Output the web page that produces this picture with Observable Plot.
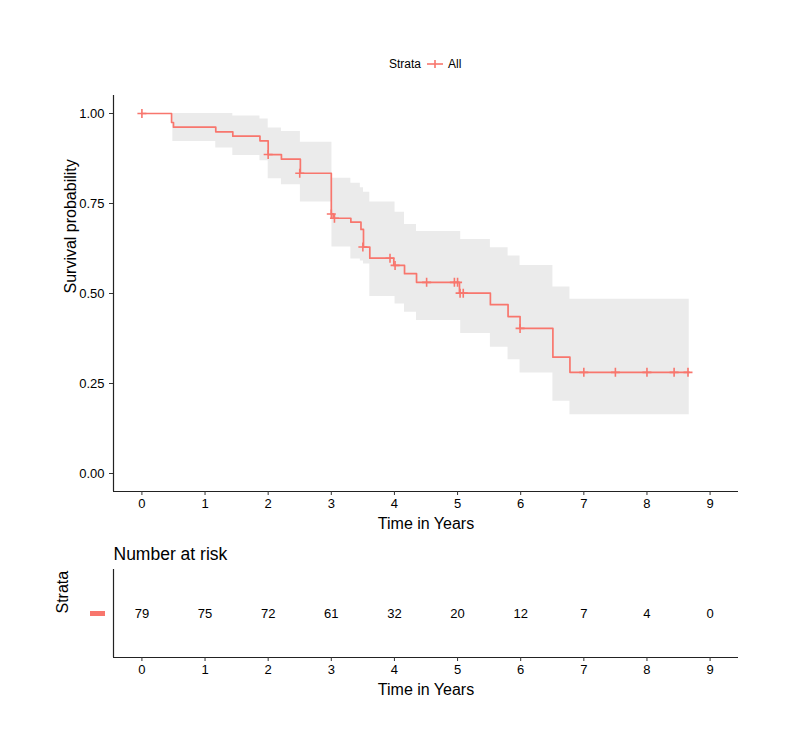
<!DOCTYPE html>
<html>
<head>
<meta charset="utf-8">
<script src="https://cdn.jsdelivr.net/npm/d3@7"></script>
<script src="https://cdn.jsdelivr.net/npm/@observablehq/plot@0.6"></script>
<style>
  html, body { margin: 0; padding: 0; background: #fff; }
  #wrap { position: relative; width: 800px; height: 755px; font-family: 'Liberation Sans', Arial, Helvetica, sans-serif; }
  #topChart { position: absolute; left: 0; top: 0; }
  #riskChart { position: absolute; left: 0; top: 530px; }
  #legend { position: absolute; left: 389px; top: 57px; font-size: 12px; display: flex; align-items: center; color: #000; }
</style>
</head>
<body>
<div id="wrap">
  <div id="topChart"></div>
  <div id="riskChart"></div>
  <div id="legend"><span>Strata</span><svg width="18" height="14" style="margin:0 4px 0 5px"><line x1="1" y1="7" x2="17" y2="7" stroke="#F8766D" stroke-width="1.6"/><line x1="9" y1="3" x2="9" y2="11" stroke="#F8766D" stroke-width="1.6"/></svg><span>All</span></div>
</div>
<script>
// ---- Data ----
const kmTime = [0, 0.47, 0.50, 1.17, 1.44, 1.87, 2.00, 2.21, 2.51, 3.00, 3.03, 3.31, 3.47, 3.51, 3.61, 3.99, 4.16, 4.35, 5.03, 5.52, 5.80, 5.99, 6.51, 6.78, 8.67];
const kmSurv = [1.000, 0.975, 0.962, 0.949, 0.937, 0.924, 0.886, 0.873, 0.834, 0.721, 0.709, 0.698, 0.678, 0.629, 0.598, 0.578, 0.555, 0.531, 0.501, 0.469, 0.436, 0.403, 0.323, 0.281, 0.281];

const ciTime  = [0.49, 1.17, 1.44, 1.87, 2.00, 2.21, 2.51, 3.01, 3.31, 3.46, 3.51, 3.61, 4.01, 4.16, 4.35, 5.05, 5.52, 5.80, 5.99, 6.51, 6.78, 8.67];
const ciUpper = [1.000, 1.000, 0.993, 0.985, 0.960, 0.950, 0.920, 0.820, 0.806, 0.794, 0.781, 0.754, 0.726, 0.692, 0.672, 0.650, 0.627, 0.604, 0.578, 0.518, 0.484, 0.484];
const ciLower = [0.922, 0.904, 0.883, 0.869, 0.819, 0.802, 0.754, 0.629, 0.596, 0.590, 0.582, 0.492, 0.471, 0.448, 0.425, 0.389, 0.351, 0.316, 0.279, 0.201, 0.163, 0.163];

const censTime = [0, 2.00, 2.50, 3.00, 3.05, 3.50, 3.93, 4.01, 4.51, 4.95, 5.00, 5.04, 5.09, 5.99, 7.00, 7.50, 8.00, 8.43, 8.65];
const censSurv = [1.000, 0.886, 0.834, 0.721, 0.709, 0.629, 0.598, 0.578, 0.531, 0.531, 0.531, 0.501, 0.501, 0.403, 0.281, 0.281, 0.281, 0.281, 0.281];

const riskTime = [0, 1, 2, 3, 4, 5, 6, 7, 8, 9];
const riskN    = [79, 75, 72, 61, 32, 20, 12, 7, 4, 0];

const xTicks = [0, 1, 2, 3, 4, 5, 6, 7, 8, 9];
const yTicks = [0, 0.25, 0.5, 0.75, 1];

const xLabel = "Time in Years";
const yLabel = "Survival probability";
const riskTitle = "Number at risk";
const strataLabel = "Strata";

// ---- Build tables ----
const km = kmTime.map((t, i) => ({t, s: kmSurv[i]}));
const ci = ciTime.map((t, i) => ({t, hi: ciUpper[i], lo: ciLower[i]}));
const cens = censTime.map((t, i) => ({t, s: censSurv[i]}));
const risk = riskTime.map((t, i) => ({t, n: riskN[i]}));

const RED = "#F8766D";
const font = "'Liberation Sans', Arial, Helvetica, sans-serif";
const xDomain = [-0.45, 9.45];

const cross = {
  draw(ctx, size) {
    const r = Math.sqrt(size / Math.PI);
    ctx.moveTo(-r, 0); ctx.lineTo(r, 0);
    ctx.moveTo(0, -r); ctx.lineTo(0, r);
  }
};
const bar = {
  draw(ctx, size) { ctx.rect(-7.5, -2.5, 15, 5); }
};

const chartStyle = {fontFamily: font, fontSize: "13px", color: "#000", background: "transparent", overflow: "visible"};

const survPlot = Plot.plot({
  width: 800, height: 530,
  marginLeft: 113, marginRight: 62, marginTop: 95, marginBottom: 39,
  style: chartStyle,
  x: {domain: xDomain},
  y: {domain: [-0.05, 1.05]},
  marks: [
    Plot.areaY(ci, {x: "t", y1: "lo", y2: "hi", curve: "step-after", fill: "#ebebeb"}),
    Plot.line(km, {x: "t", y: "s", curve: "step-after", stroke: RED, strokeWidth: 1.7}),
    Plot.dot(cens, {x: "t", y: "s", symbol: cross, r: 4.5, stroke: RED, strokeWidth: 1.6, fill: "none"}),
    Plot.ruleY([-0.05], {stroke: "#222", strokeWidth: 1.2}),
    Plot.ruleX([-0.45], {stroke: "#222", strokeWidth: 1.2}),
    Plot.axisX({ticks: xTicks, tickSize: 4, tickPadding: 3, label: null, tickFormat: d3.format("d"), stroke: "#333"}),
    Plot.axisY({ticks: yTicks, tickSize: 4, tickPadding: 5, label: null, tickFormat: d3.format(".2f"), stroke: "#333"}),
    Plot.text([xLabel], {frameAnchor: "bottom", dy: 32, lineAnchor: "middle", fontSize: 16}),
    Plot.text([yLabel], {frameAnchor: "left", dx: -43, rotate: -90, fontSize: 16})
  ]
});
document.getElementById("topChart").appendChild(survPlot);

const riskPlot = Plot.plot({
  width: 800, height: 180,
  marginLeft: 113, marginRight: 62, marginTop: 39, marginBottom: 53,
  style: chartStyle,
  x: {domain: xDomain},
  y: {domain: [0, 1], axis: null},
  marks: [
    Plot.text(risk, {x: "t", y: () => 0.5, text: "n", fontSize: 13}),
    Plot.ruleY([0], {stroke: "#222", strokeWidth: 1.2}),
    Plot.ruleX([-0.45], {stroke: "#222", strokeWidth: 1.2}),
    Plot.axisX({ticks: xTicks, tickSize: 4, tickPadding: 3, label: null, tickFormat: d3.format("d"), stroke: "#333"}),
    Plot.text([xLabel], {frameAnchor: "bottom", dy: 32, lineAnchor: "middle", fontSize: 16}),
    Plot.text([riskTitle], {frameAnchor: "top-left", dy: -15, textAnchor: "start", lineAnchor: "middle", fontSize: 17.5}),
    Plot.text([strataLabel], {frameAnchor: "left", dx: -51, rotate: -90, fontSize: 16}),
    Plot.dot([0], {frameAnchor: "left", dx: -16, symbol: bar, r: 5, fill: RED, stroke: "none"})
  ]
});
document.getElementById("riskChart").appendChild(riskPlot);
</script>
</body>
</html>
